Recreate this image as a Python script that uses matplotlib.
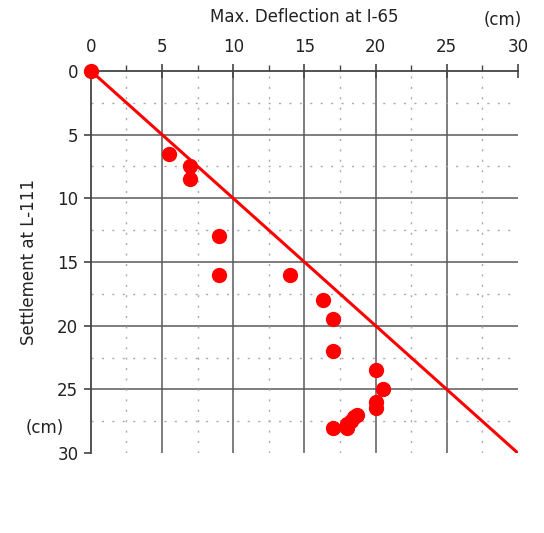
import numpy as np
import matplotlib
matplotlib.use("Agg")
import matplotlib.pyplot as plt
from matplotlib.ticker import MultipleLocator

plt.rcParams['font.family'] = ['DejaVu Sans']

# measured values (cm)
deflection = [5.5, 7.0, 7.0, 9.0, 9.0, 14.0, 16.3, 17.0, 17.0, 20.0, 20.5, 20.0, 20.0,
              17.0, 18.0, 18.0, 18.3, 18.5, 18.7]
settlement = [6.5, 7.5, 8.5, 13.0, 16.0, 16.0, 18.0, 19.5, 22.0, 23.5, 25.0, 26.0, 26.5,
              28.0, 28.0, 27.7, 27.5, 27.2, 27.0]
line_x = [0, 30]
line_y = [0, 30]
ticks = [0, 5, 10, 15, 20, 25, 30]

fig = plt.figure(figsize=(5.44, 5.33), dpi=100)
ax = fig.add_axes([0.167, 0.15, 0.785, 0.717])

ax.set_xlim(0, 30)
ax.set_ylim(30, 0)

# grid
for v in [5, 10, 15, 20, 25]:
    ax.axvline(v, color='#5a5a5a', lw=1.1, zorder=1)
    ax.axhline(v, color='#5a5a5a', lw=1.1, zorder=1)
for v in [2.5, 7.5, 12.5, 17.5, 22.5, 27.5]:
    ax.axvline(v, color='#aaaaaa', lw=1.0, ls=(0, (1.5, 6)), zorder=1)
    ax.axhline(v, color='#aaaaaa', lw=1.0, ls=(0, (1.5, 6)), zorder=1)

ax.plot(line_x, line_y, color='#ff0000', lw=2.2, zorder=3)
ax.plot([0], [0], 'o', color='#ff0000', ms=10, clip_on=False, zorder=4)
ax.plot(deflection, settlement, 'o', color='#ff0000', ms=10, ls='none',
        clip_on=False, zorder=4)

for s in ['right', 'bottom']:
    ax.spines[s].set_visible(False)
for s in ['top', 'left']:
    ax.spines[s].set_color('#444444')
    ax.spines[s].set_linewidth(1.3)

ax.xaxis.tick_top()
ax.set_xticks(ticks)
ax.set_yticks(ticks)
ax.xaxis.set_minor_locator(MultipleLocator(2.5))
ax.tick_params(axis='x', which='major', direction='inout', length=10, width=1.2,
               color='#444444', labelsize=12, pad=6, labelcolor='#222222')
ax.tick_params(axis='x', which='minor', direction='out', length=4, width=1,
               color='#444444')
ax.tick_params(axis='y', which='major', direction='out', length=5, width=1.2,
               color='#444444', labelsize=12, pad=4, labelcolor='#222222')

ax.set_title('Max. Deflection at I-65', fontsize=12, pad=35, color='#222222')
ax.set_ylabel('Settlement at L-111', fontsize=12, labelpad=14, color='#222222')
fig.text(0.925, 0.962, '(cm)', fontsize=12, ha='center', va='center', color='#222222')
fig.text(0.083, 0.197, '(cm)', fontsize=12, ha='center', va='center', color='#222222')

fig.savefig('out.png', dpi=100)
